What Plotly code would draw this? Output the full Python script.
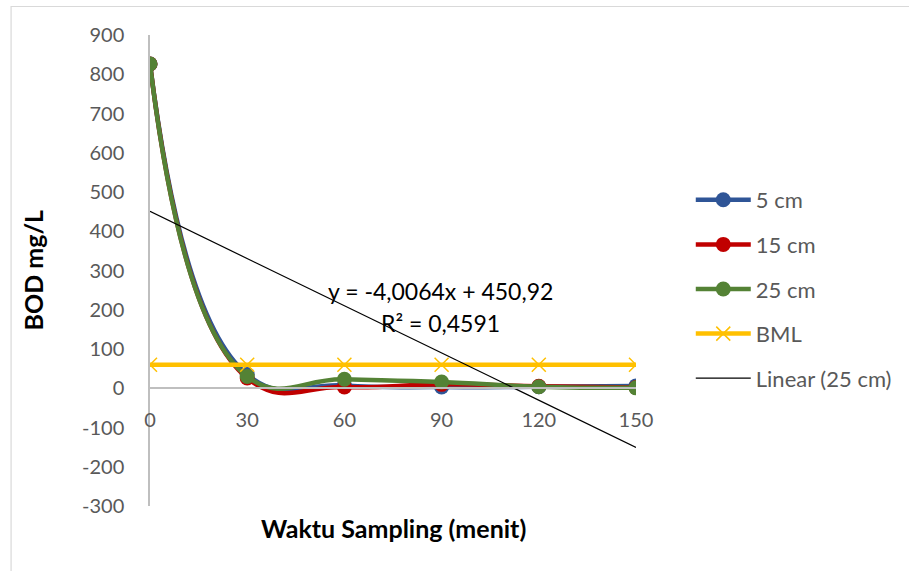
import numpy as np
import plotly.graph_objects as go

waktu = [0, 30, 60, 90, 120, 150]
bod_5cm = [826, 35, 7, 3, 4, 6]
bod_15cm = [826, 26, 3, 10, 5, 2]
bod_25cm = [826, 30, 23, 16, 4, 1]
bml = [60, 60, 60, 60, 60, 60]
y_ticks = [-300, -200, -100, 0, 100, 200, 300, 400, 500, 600, 700, 800, 900]
x_ticks = [0, 30, 60, 90, 120, 150]
eq_text = "y = -4,0064x + 450,92"
r2_text = "R² = 0,4591"

FONT = "Lato"
GRAY = "#595959"

fig = go.Figure()

series = [("5 cm", bod_5cm, "#2F5597"), ("15 cm", bod_15cm, "#C00000"), ("25 cm", bod_25cm, "#548235")]
for name, vals, col in series:
    fig.add_trace(go.Scatter(
        x=waktu, y=vals, name=name, mode="lines+markers",
        line=dict(color=col, width=4.5, shape="spline", smoothing=1.3),
        marker=dict(color=col, size=15, symbol="circle"),
        legendgroup=name,
    ))

fig.add_trace(go.Scatter(
    x=waktu, y=bml, name="BML", mode="lines+markers",
    line=dict(color="#FFC000", width=4.5),
    marker=dict(color="#FFC000", size=14, symbol="x-thin", line=dict(color="#FFC000", width=1.5)),
    legendgroup="BML",
))

slope, intercept = np.polyfit(waktu, bod_25cm, 1)
tx = np.array([waktu[0], waktu[-1]])
fig.add_trace(go.Scatter(
    x=tx, y=slope * tx + intercept, name="Linear (25 cm)", mode="lines",
    line=dict(color="black", width=1.2), legendgroup="lin",
))

W, H = 909, 571
PL, PR, PT, PB = 150, 638, 35, 506  # plot area in pixels
L = PL
T = PT
pw, ph = PR - PL, PB - PT
R = W - L - pw
B = H - T - ph

def px2paper(px, py):
    return (px - PL) / pw, (PB - py) / ph

def ann(px, py, text, size, angle=0):
    ax, ay = px2paper(px, py)
    fig.add_annotation(x=ax, y=ay, xref="paper", yref="paper", text=text, showarrow=False,
                       xanchor="center", yanchor="middle", textangle=angle,
                       font=dict(family=FONT, size=size, color="black"))

ann(442, 291, eq_text, 23)
ann(442, 323, r2_text, 23)
ann(394, 528, "<b>Waktu Sampling (menit)</b>", 25)
ann(33, 270, "<b>BOD mg/L</b>", 25, angle=-90)

bx0, by0 = px2paper(10.5, 6.5)
fig.add_shape(type="rect", xref="paper", yref="paper", x0=bx0, y0=-1, x1=3, y1=by0,
              line=dict(color="#D9D9D9", width=1.2), fillcolor="rgba(0,0,0,0)", layer="below")

zero_pos = (0 - (-300)) / 1200

fig.update_layout(
    width=W, height=H,
    margin=dict(l=L, r=R, t=T, b=B, pad=0),
    paper_bgcolor="white", plot_bgcolor="white",
    font=dict(family=FONT, size=20, color=GRAY),
    showlegend=True,
    legend=dict(x=px2paper(693, 0)[0], xanchor="left", y=px2paper(0, 179)[1], yanchor="top",
                font=dict(family=FONT, size=22, color=GRAY), itemwidth=55,
                tracegroupgap=13, bgcolor="rgba(0,0,0,0)"),
    xaxis=dict(range=[0, 150], tickvals=x_ticks, ticktext=[str(v) for v in x_ticks],
               showgrid=False, zeroline=False, showline=True, linecolor="#BFBFBF", linewidth=1.5,
               anchor="free", position=zero_pos, ticks="", ticklabelstandoff=14,
               tickfont=dict(family=FONT, size=20, color=GRAY), fixedrange=True),
    yaxis=dict(range=[-300, 900], tickvals=y_ticks, ticktext=[str(v) for v in y_ticks],
               showgrid=False, zeroline=False,
               showline=True, linecolor="#BFBFBF", linewidth=1.5, ticks="",
               ticklabelstandoff=20, tickfont=dict(family=FONT, size=20, color=GRAY)),
)

fig.write_html("out.html", config={"displayModeBar": False},
               post_script="document.body.style.margin='0px';")
